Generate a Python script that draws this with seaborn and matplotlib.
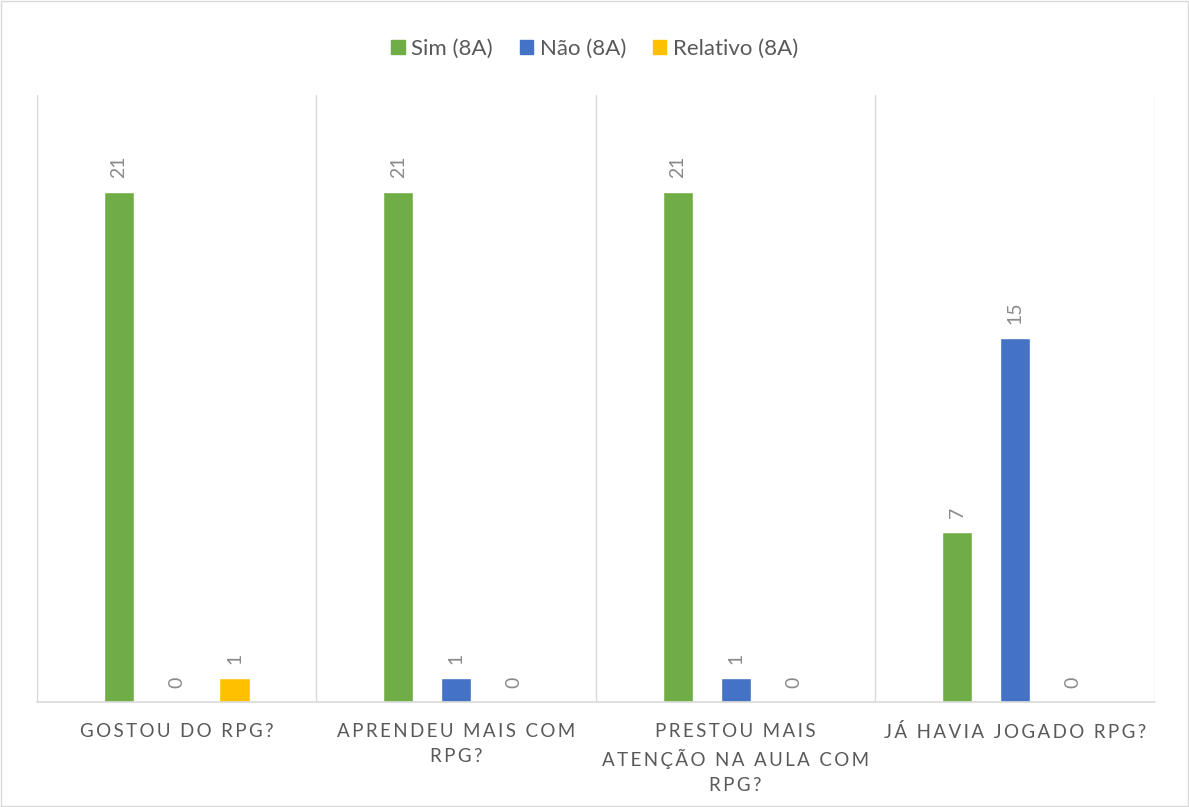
import numpy as np
import pandas as pd
import seaborn as sns
import matplotlib.pyplot as plt
from matplotlib.patches import Rectangle

categories = ['GOSTOU DO RPG?', 'APRENDEU MAIS COM\nRPG?',
              'PRESTOU MAIS\nATENÇÃO NA AULA COM\nRPG?', 'JÁ HAVIA JOGADO RPG?']
series = ['Sim (8A)', 'Não (8A)', 'Relativo (8A)']
sim = [21, 21, 21, 7]
nao = [0, 1, 1, 15]
relativo = [1, 0, 0, 0]
colors = ['#70AD47', '#4472C4', '#FFC000']

df = pd.DataFrame({
    'cat': categories * 3,
    'serie': [s for s in series for _ in categories],
    'valor': sim + nao + relativo,
})

sns.set_style('white')
plt.rcParams['font.family'] = ['Lato', 'DejaVu Sans']

fig = plt.figure(figsize=(11.89, 8.07), dpi=100)
ax = fig.add_axes([0.0311, 0.1301, 0.9403, 0.7522])

sns.barplot(data=df, x='cat', y='valor', hue='serie', palette=colors,
            width=0.62, gap=0.48, saturation=1, ax=ax, legend=False)

for cont in ax.containers:
    ax.bar_label(cont, rotation=90, padding=10, color='#8a8a8a', fontsize=14)

ax.set_ylim(0, 25)
ax.set_xlim(-0.5, len(categories) - 0.5)
for i in range(len(categories) + 1):
    ax.axvline(i - 0.5, color='#d9d9d9', lw=1, zorder=0)

def spaced(t):
    return '\n'.join('\u2009'.join(line) for line in t.split('\n'))

ax.set_xticks(range(len(categories)))
ax.set_xticklabels([spaced(c) for c in categories], color='#595959',
                   fontsize=13.5, linespacing=1.55)
ax.tick_params(axis='x', length=0, pad=15)
ax.set_yticks([])
ax.set_xlabel('')
ax.set_ylabel('')
for s in ['top', 'left', 'right']:
    ax.spines[s].set_visible(False)
ax.spines['bottom'].set_color('#d9d9d9')
ax.spines['bottom'].set_linewidth(1.2)

handles = [Rectangle((0, 0), 1, 1, color=c) for c in colors]
fig.legend(handles, series, loc='center', bbox_to_anchor=(0.5, 0.94), ncol=3,
           frameon=False, fontsize=16, handlelength=0.6, handleheight=0.6,
           handletextpad=0.3, columnspacing=1.2, labelcolor='#595959')

fig.add_artist(Rectangle((0.001, 0.001), 0.998, 0.998, transform=fig.transFigure,
                         fill=False, edgecolor='#d9d9d9', lw=1))

fig.savefig('out.png', dpi=100)
